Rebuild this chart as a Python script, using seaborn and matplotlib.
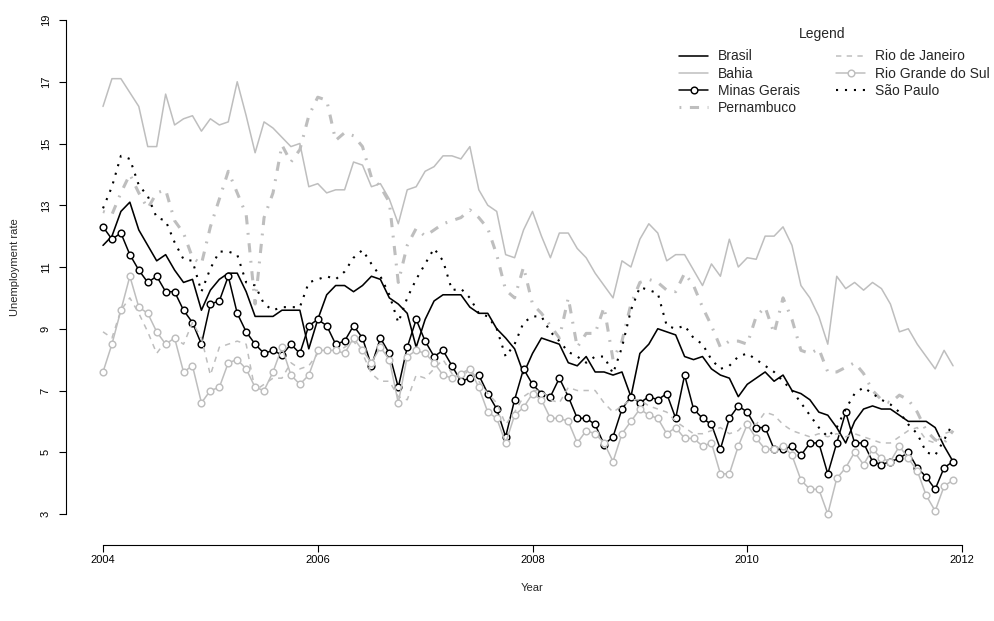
import numpy as np
import pandas as pd
import matplotlib
matplotlib.use("Agg")
import matplotlib.pyplot as plt
import seaborn as sns

sns.set_theme(style="white")
plt.rcParams['font.family'] = ['Liberation Sans', 'DejaVu Sans']

# ---- data (monthly, Jan 2004 - Dec 2011) ----
start_year = 2004
n_months = 96

brasil = [11.7, 12.0, 12.8, 13.1, 12.2, 11.7, 11.2, 11.4, 10.9, 10.5, 10.6, 9.6,
          10.25, 10.6, 10.8, 10.8, 10.2, 9.4, 9.4, 9.4, 9.6, 9.6, 9.6, 8.35,
          9.3, 10.1, 10.4, 10.4, 10.2, 10.4, 10.7, 10.6, 10.0, 9.8, 9.5, 8.4,
          9.3, 9.9, 10.1, 10.1, 10.1, 9.7, 9.5, 9.5, 9.0, 8.7, 8.35, 7.55,
          8.2, 8.7, 8.6, 8.5, 7.9, 7.8, 8.1, 7.6, 7.6, 7.5, 7.6, 6.8,
          8.2, 8.5, 9.0, 8.9, 8.8, 8.1, 8.0, 8.1, 7.7, 7.5, 7.4, 6.8,
          7.2, 7.4, 7.6, 7.3, 7.5, 7.0, 6.9, 6.7, 6.3, 6.2, 5.8, 5.3,
          6.0, 6.4, 6.5, 6.4, 6.4, 6.2, 6.0, 6.0, 6.0, 5.8, 5.2, 4.7]

bahia = [16.2, 17.1, 17.1, 16.65, 16.2, 14.9, 14.9, 16.6, 15.6, 15.8, 15.9, 15.4,
         15.8, 15.6, 15.7, 17.0, 15.9, 14.7, 15.7, 15.5, 15.2, 14.9, 15.0, 13.6,
         13.7, 13.4, 13.5, 13.5, 14.4, 14.3, 13.6, 13.7, 13.2, 12.4, 13.5, 13.6,
         14.1, 14.25, 14.6, 14.6, 14.5, 14.9, 13.5, 13.0, 12.8, 11.4, 11.3, 12.2,
         12.8, 12.0, 11.3, 12.1, 12.1, 11.6, 11.3, 10.8, 10.4, 10.0, 11.2, 11.0,
         11.9, 12.4, 12.1, 11.2, 11.4, 11.4, 10.9, 10.4, 11.1, 10.7, 11.9, 11.0,
         11.3, 11.25, 12.0, 12.0, 12.3, 11.7, 10.4, 10.0, 9.4, 8.5, 10.7, 10.3,
         10.5, 10.25, 10.5, 10.3, 9.8, 8.9, 9.0, 8.5, 8.1, 7.7, 8.3, 7.8]

minas = [12.3, 11.9, 12.1, 11.4, 10.9, 10.5, 10.7, 10.2, 10.2, 9.6, 9.2, 8.5,
         9.8, 9.9, 10.7, 9.5, 8.9, 8.5, 8.2, 8.3, 8.15, 8.5, 8.2, 9.1,
         9.3, 9.1, 8.5, 8.6, 9.1, 8.7, 7.8, 8.7, 8.2, 7.1, 8.4, 9.3,
         8.6, 8.1, 8.3, 7.8, 7.3, 7.4, 7.5, 6.9, 6.4, 5.5, 6.7, 7.7,
         7.2, 6.9, 6.8, 7.4, 6.8, 6.1, 6.1, 5.9, 5.25, 5.5, 6.4, 6.8,
         6.6, 6.8, 6.7, 6.9, 6.1, 7.5, 6.4, 6.1, 5.9, 5.1, 6.1, 6.5,
         6.3, 5.8, 5.8, 5.1, 5.1, 5.2, 4.9, 5.3, 5.3, 4.3, 5.3, 6.3,
         5.3, 5.3, 4.7, 4.6, 4.7, 4.8, 5.0, 4.5, 4.2, 3.8, 4.5, 4.7]

pernambuco = [12.8, 12.7, 13.4, 14.0, 13.4, 12.9, 13.4, 13.5, 12.5, 12.1, 11.3, 11.1,
              12.3, 13.2, 14.1, 13.4, 12.7, 9.8, 12.6, 13.4, 14.95, 14.4, 14.8, 15.9,
              16.5, 16.4, 15.1, 15.35, 15.25, 14.9, 13.9, 13.6, 13.1, 10.5, 11.7, 12.25,
              12.0, 12.2, 12.4, 12.5, 12.6, 12.85, 12.6, 12.25, 11.4, 10.25, 10.0, 11.0,
              9.8, 9.5, 9.1, 8.7, 10.0, 8.4, 8.85, 8.85, 9.7, 8.0, 8.6, 9.8,
              10.5, 10.6, 10.5, 10.25, 10.2, 10.8, 10.4, 9.7, 9.1, 8.4, 8.6, 8.6,
              8.5, 9.4, 9.7, 8.85, 10.0, 9.3, 8.3, 8.2, 8.35, 7.6, 7.6, 7.75,
              7.9, 7.55, 7.0, 6.7, 6.6, 6.85, 6.7, 6.3, 5.7, 5.4, 5.3, 5.7]

rio_janeiro = [8.9, 8.7, 9.6, 10.0, 9.5, 8.9, 8.2, 8.6, 8.7, 8.5, 9.2, 8.7,
               7.5, 8.4, 8.5, 8.6, 8.5, 7.0, 7.2, 7.4, 7.4, 7.9, 7.7, 7.8,
               8.2, 8.3, 8.2, 8.4, 8.6, 8.2, 7.55, 7.3, 7.3, 6.8, 6.7, 7.5,
               7.4, 7.7, 8.0, 7.55, 7.4, 7.7, 7.3, 6.9, 6.6, 5.9, 6.3, 6.8,
               7.0, 7.0, 6.7, 6.6, 7.1, 7.0, 7.0, 7.0, 6.6, 6.3, 6.5, 6.7,
               6.7, 6.5, 6.4, 6.3, 6.0, 5.8, 5.6, 5.6, 5.7, 5.8, 5.6, 5.7,
               6.0, 5.9, 6.3, 6.2, 5.9, 5.7, 5.6, 5.5, 5.6, 5.5, 5.6, 5.5,
               5.6, 5.5, 5.4, 5.3, 5.3, 5.5, 5.7, 5.8, 5.4, 5.3, 5.6, 5.7]

rio_grande_sul = [7.6, 8.5, 9.6, 10.7, 9.7, 9.5, 8.9, 8.5, 8.7, 7.6, 7.8, 6.6,
                  7.0, 7.1, 7.9, 8.0, 7.7, 7.1, 7.0, 7.6, 8.4, 7.5, 7.2, 7.5,
                  8.3, 8.3, 8.3, 8.2, 8.7, 8.3, 7.9, 8.4, 8.0, 6.6, 8.1, 8.3,
                  8.2, 7.9, 7.5, 7.4, 7.55, 7.7, 7.1, 6.3, 6.1, 5.3, 6.2, 6.45,
                  6.9, 6.7, 6.1, 6.1, 6.0, 5.3, 5.7, 5.6, 5.3, 4.7, 5.6, 6.0,
                  6.4, 6.2, 6.1, 5.6, 5.8, 5.45, 5.45, 5.2, 5.3, 4.3, 4.3, 5.2,
                  5.9, 5.45, 5.1, 5.1, 5.2, 4.9, 4.1, 3.8, 3.8, 3.0, 4.15, 4.5,
                  5.0, 4.6, 5.1, 4.8, 4.7, 5.2, 4.8, 4.4, 3.6, 3.1, 3.9, 4.1]

sao_paulo = [12.9, 13.6, 14.6, 14.5, 13.65, 13.3, 12.6, 12.5, 11.8, 11.25, 11.2, 10.2,
             10.95, 11.5, 11.5, 11.4, 10.5, 10.4, 9.8, 9.6, 9.7, 9.7, 9.7, 10.5,
             10.6, 10.7, 10.6, 10.85, 11.3, 11.55, 11.1, 10.7, 10.1, 9.2, 10.0, 10.6,
             11.1, 11.6, 11.2, 10.25, 10.3, 10.0, 9.5, 9.4, 9.0, 8.1, 8.5, 9.2,
             9.4, 9.4, 8.9, 8.6, 8.25, 8.1, 7.9, 8.1, 8.1, 7.55, 8.4, 9.6,
             10.35, 10.25, 10.15, 9.1, 9.0, 9.1, 8.7, 8.5, 8.0, 7.7, 7.8, 8.1,
             8.2, 8.0, 7.8, 7.6, 7.3, 7.0, 6.6, 6.2, 5.8, 5.5, 5.8, 6.4,
             6.9, 7.1, 6.9, 6.7, 6.55, 6.3, 5.9, 5.6, 5.0, 4.9, 5.4, 5.95]

series_names = ["Brasil", "Bahia", "Minas Gerais", "Pernambuco",
                "Rio de Janeiro", "Rio Grande do Sul", "São Paulo"]
series_values = [brasil, bahia, minas, pernambuco, rio_janeiro, rio_grande_sul, sao_paulo]

x_ticks = [2004, 2006, 2008, 2010, 2012]
y_ticks = [3, 5, 7, 9, 11, 13, 15, 17, 19]

years = start_year + np.arange(n_months) / 12.0
df = pd.DataFrame({"year": np.tile(years, len(series_names)),
                   "rate": np.concatenate(series_values),
                   "series": np.repeat(series_names, n_months)})

GRAY = "#BEBEBE"
styles = {
    "Brasil":            dict(color="black", lw=1.15, dashes=None, marker=None),
    "Bahia":             dict(color=GRAY, lw=1.1, dashes=None, marker=None),
    "Minas Gerais":      dict(color="black", lw=1.1, dashes=None, marker="o"),
    "Pernambuco":        dict(color=GRAY, lw=2.2, dashes=(0.6, 2.8, 3.0, 2.8), marker=None),
    "Rio de Janeiro":    dict(color=GRAY, lw=1.1, dashes=(3.5, 3.5), marker=None),
    "Rio Grande do Sul": dict(color=GRAY, lw=1.1, dashes=None, marker="o"),
    "São Paulo":         dict(color="black", lw=1.5, dashes=(1.0, 3.3), marker=None),
}

W, H = 995, 621
fig = plt.figure(figsize=(W / 100, H / 100), dpi=100)
# axes in pixel terms: left 66, right 990, top 8, bottom 545
ax_l, ax_r, ax_t, ax_b = 66, 990, 8, 545
ax = fig.add_axes([ax_l / W, (H - ax_b) / H, (ax_r - ax_l) / W, (ax_b - ax_t) / H])

px_per_year = (962 - 103) / 8.0
px_per_unit = (514 - 20) / 16.0
ax.set_xlim(2004 - (103 - ax_l) / px_per_year, 2004 + (ax_r - 103) / px_per_year)
ax.set_ylim(19 - (ax_b - 20) / px_per_unit, 19 + (20 - ax_t) / px_per_unit)

for name in series_names:
    st = styles[name]
    sub = df[df["series"] == name]
    kw = {}
    if st["marker"]:
        kw.update(marker="o", markersize=4.8, markerfacecolor="white",
                  markeredgecolor=st["color"], markeredgewidth=1.05)
    sns.lineplot(data=sub, x="year", y="rate", ax=ax, color=st["color"],
                 linewidth=st["lw"], label=name, **kw)
    line = ax.lines[-1]
    if st["dashes"] is not None:
        line.set_dashes(st["dashes"])
        line.set_dash_capstyle("butt")

# R-style axes
for s in ["top", "right"]:
    ax.spines[s].set_visible(False)
ax.spines["left"].set_bounds(3, 19)
ax.spines["bottom"].set_bounds(2004, 2012)
for s in ["left", "bottom"]:
    ax.spines[s].set_linewidth(0.8)
    ax.spines[s].set_color("black")

ax.set_xticks(x_ticks)
ax.set_xticklabels([str(v) for v in x_ticks])
ax.set_yticks(y_ticks)
ax.set_yticklabels([str(v) for v in y_ticks], rotation=90, va="center")
ax.tick_params(axis="both", direction="out", length=5, width=0.8, colors="black",
               labelsize=8, bottom=True, left=True)
ax.tick_params(axis="x", pad=2.5)
ax.tick_params(axis="y", pad=6)
ax.grid(False)

ax.set_xlabel("Year", fontsize=8)
ax.set_ylabel("Unemployment rate", fontsize=8)
ax.xaxis.set_label_coords(((103 + 962) / 2 - ax_l) / (ax_r - ax_l), -(588 - ax_b) / (ax_b - ax_t))
ax.xaxis.label.set_va("center")
ax.yaxis.set_label_coords(-(ax_l - 15) / (ax_r - ax_l), (ax_b - 267) / (ax_b - ax_t))
ax.yaxis.label.set_va("center")

# legend
fig.text(822 / W, 1 - 34 / H, "Legend", ha="center", va="center", fontsize=10)
handles, labels = ax.get_legend_handles_labels()
leg = ax.legend(handles, labels, ncol=2, frameon=False, fontsize=10,
                loc="upper left", bbox_to_anchor=(679 / W, 1 - 49.5 / H),
                bbox_transform=fig.transFigure, borderpad=0, borderaxespad=0,
                handlelength=2.1, handletextpad=0.72, columnspacing=2.6,
                labelspacing=0.22)

fig.savefig("out.png", dpi=100, facecolor="white")
